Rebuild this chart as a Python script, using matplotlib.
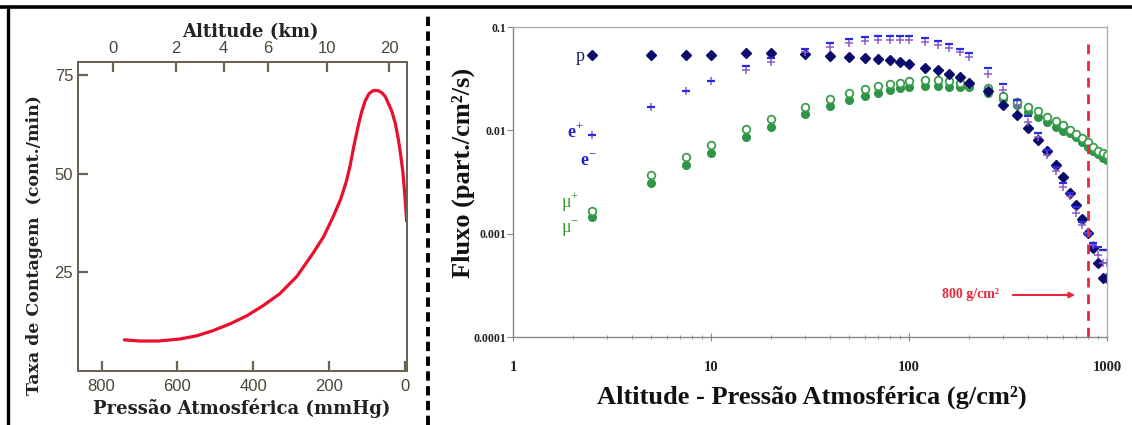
import numpy as np
import matplotlib
matplotlib.use('Agg')
import matplotlib.pyplot as plt
from matplotlib.lines import Line2D

# ----------DATA----------
# left panel: counting rate vs atmospheric pressure
pressure_mmhg = [740, 700, 650, 594, 550, 507, 460, 417, 375, 330, 285, 243, 215, 190,
                 170, 155, 145, 135, 125, 115, 105, 95, 85, 78, 70, 61, 52, 45, 35, 26,
                 18, 12, 6, 1, -4]
count_rate = [7.9, 7.6, 7.6, 8.1, 8.9, 10.2, 12.0, 14.0, 16.5, 19.6, 24.0, 29.8, 34.0, 39.0,
              43.5, 48.0, 52.0, 57.0, 61.5, 65.5, 68.5, 70.3, 71.0, 71.1, 71.0, 70.5, 69.5,
              68.0, 65.8, 62.8, 58.8, 55.0, 50.5, 45.0, 38.0]
mmhg_ticks = [800, 600, 400, 200, 0]
rate_ticks = [25, 50, 75]
km_labels = ['0', '2', '4', '6', '10', '20']
km_pressure = [770, 604, 478, 361, 206, 42]

# right panel: particle flux vs atmospheric depth
depth = [2.5, 5, 7.5, 10, 15, 20, 30, 40, 50, 60, 70, 80, 90, 100, 120, 140, 160, 180, 200,
         250, 300, 350, 400, 450, 500, 550, 600, 650, 700, 750, 800, 850, 900, 950, 1000]
flux_p = [0.053, 0.0535, 0.0535, 0.0535, 0.0555, 0.0555, 0.055, 0.052, 0.051, 0.050, 0.049,
          0.048, 0.046, 0.044, 0.040, 0.038, 0.035, 0.033, 0.029, 0.024, 0.0176, 0.0141,
          0.0105, 0.0081, 0.0063, 0.0046, 0.0035, 0.0025, 0.0019, 0.00139, 0.00101, 0.00072,
          0.00052, 0.00037, 0.00037]
flux_eplus = [0.0090, 0.017, 0.024, 0.030, 0.038, 0.046, 0.057, 0.064, 0.070, 0.073, 0.075,
              0.075, 0.075, 0.075, 0.071, 0.067, 0.062, 0.057, 0.051, 0.035, 0.0246, 0.0176,
              0.0121, 0.0086, 0.0058, 0.0040, 0.0028, 0.0023, 0.0016, 0.0012, 0.00101,
              0.00078, 0.00062, 0.00052, 0.00052]
flux_eminus = [0.0090, 0.017, 0.024, 0.030, 0.042, 0.050, 0.061, 0.070, 0.076, 0.080, 0.082,
               0.082, 0.082, 0.082, 0.078, 0.073, 0.068, 0.061, 0.056, 0.040, 0.028, 0.0196,
               0.0138, 0.0094, 0.0064, 0.0044, 0.0031, 0.0025, 0.0018, 0.0013, 0.00098,
               0.00082, 0.00075, 0.00070, 0.00070]
flux_muplus = [0.00166, 0.0037, 0.0055, 0.0072, 0.0103, 0.0128, 0.0168, 0.020, 0.023, 0.025,
               0.0268, 0.028, 0.029, 0.030, 0.0307, 0.0307, 0.030, 0.0287, 0.0275, 0.0256,
               0.0215, 0.0188, 0.0168, 0.0154, 0.0135, 0.0123, 0.0113, 0.0101, 0.0092,
               0.0084, 0.0077, 0.0069, 0.0063, 0.0060, 0.0058]
flux_muminus = [0.00145, 0.0031, 0.0046, 0.0061, 0.0086, 0.0108, 0.0144, 0.0172, 0.0197,
                0.0215, 0.0230, 0.0246, 0.0256, 0.0262, 0.0268, 0.0268, 0.0265, 0.0260,
                0.0260, 0.0230, 0.020, 0.0176, 0.015, 0.0135, 0.012, 0.0108, 0.0099, 0.0094,
                0.0086, 0.0077, 0.0069, 0.0063, 0.0059, 0.0054, 0.0052]
flux_ticks = [0.0001, 0.001, 0.01, 0.1]
flux_ticklabels = ['0.0001', '0.001', '0.01', '0.1']
depth_ticks = [1, 10, 100, 1000]
depth_ticklabels = ['1', '10', '100', '1000']
cut_depth = 800

plt.rcParams['font.family'] = ['Liberation Serif', 'DejaVu Serif']
plt.rcParams['mathtext.fontset'] = 'custom'
plt.rcParams['mathtext.rm'] = 'Liberation Serif'
plt.rcParams['mathtext.bf'] = 'Liberation Serif:bold'

fig = plt.figure(figsize=(11.32, 4.25), dpi=100)

# ----------LEFT PANEL----------
spine_col = '#6b6455'
tick_col = '#4b4636'
ax1 = fig.add_axes([78/1132, 1-371/425, 329/1132, 309/425])
ax1.plot(pressure_mmhg, count_rate, color='#e8102e', lw=2.3, solid_capstyle='round')
ax1.set_xlim(862, -5)
ax1.set_ylim(0, 78.3)
ax1.set_xticks(mmhg_ticks)
ax1.set_yticks(rate_ticks)
for s in ax1.spines.values():
    s.set_color(spine_col)
    s.set_linewidth(1.4)
ax1.tick_params(direction='in', length=7, width=1.6, color=spine_col,
                labelcolor=tick_col, labelsize=12, labelfontfamily='Liberation Sans')
ax1.tick_params(axis='x', pad=6)

ax1t = ax1.twiny()
ax1t.set_xlim(ax1.get_xlim())
ax1t.set_xticks(km_pressure)
ax1t.set_xticklabels(km_labels)
ax1t.tick_params(direction='in', length=7, width=1.6, color=spine_col,
                 labelcolor=tick_col, labelsize=12, labelfontfamily='Liberation Sans', pad=4)
for s in ax1t.spines.values():
    s.set_color(spine_col)
    s.set_linewidth(1.4)

fig.text(250/1132, 1-32/425, 'Altitude (km)', ha='center', va='center',
         fontsize=13, fontweight='bold', family='DejaVu Serif', color='#222222')
fig.text(242/1132, 1-408/425, 'Pressão Atmosférica (mmHg)', ha='center', va='center',
         fontsize=13, fontweight='bold', family='DejaVu Serif', color='#222222')
fig.text(35/1132, 1-245/425, 'Taxa de Contagem  (cont./min)', ha='center', va='center',
         rotation=90, fontsize=12.5, fontweight='bold', family='DejaVu Serif', color='#222222')

# ----------RIGHT PANEL----------
ax2 = fig.add_axes([513/1132, 1-337/425, 594/1132, 310/425])
ax2.set_xscale('log')
ax2.set_yscale('log')
ax2.set_xlim(1, 1000)
ax2.set_ylim(0.0001, 0.1)

ax2.plot(depth, flux_muminus, 'o', ms=5.5, color='#2e9447', mec='#2e9447')
ax2.plot(depth, flux_muplus, 'o', ms=5.5, mfc='white', mec='#3c9e4c', mew=1.3)
ax2.plot(depth, flux_p, 'D', ms=5, color='#0b0b6b')
ax2.plot(depth, flux_eplus, '+', ms=6, mew=1.1, color='#8a5cc8')
ax2.plot(depth, flux_eminus, '_', ms=6, mew=1.6, color='#2a2ae0')

ax2.axvline(cut_depth, ymin=0, ymax=0.95, color='#e8283c', lw=2, ls=(0, (3.5, 2.5)))
ax2.annotate('', xy=(713, 0.000255), xytext=(324, 0.000255),
             arrowprops=dict(arrowstyle='-|>', color='#e8283c', lw=1.5, mutation_scale=8))
ax2.text(285, 0.000255, '800 g/cm²', ha='right', va='center', color='#e8283c',
         fontsize=10, fontweight='bold')

ax2.text(2.3, 0.052, 'p', ha='right', va='center', fontsize=13, color='#1a1a6e')
ax2.text(2.28, 0.0095, 'e$^{+}$', ha='right', va='center', fontsize=13,
         fontweight='bold', color='#2020d0')
ax2.text(2.65, 0.0049, 'e$^{-}$', ha='right', va='center', fontsize=13,
         fontweight='bold', color='#2020d0')
ax2.text(2.17, 0.0020, 'μ$^{+}$', ha='right', va='center', fontsize=13, color='#3a9a3a')
ax2.text(2.17, 0.00108, 'μ$^{-}$', ha='right', va='center', fontsize=13, color='#3a9a3a')

ax2.set_yticks(flux_ticks)
ax2.set_yticklabels(flux_ticklabels)
ax2.yaxis.set_minor_locator(matplotlib.ticker.NullLocator())
ax2.set_xticks(depth_ticks)
ax2.set_xticklabels(depth_ticklabels)
for s in ax2.spines.values():
    s.set_color('#b0b0b0')
    s.set_linewidth(1)
ax2.spines['left'].set_color('#888888')
ax2.spines['bottom'].set_color('#888888')
ax2.tick_params(axis='y', which='major', direction='out', length=4, width=0.8,
                color='#888888', pad=1, labelsize=8.5)
ax2.tick_params(axis='x', which='major', direction='inout', length=6, width=0.8,
                color='#888888', pad=14, labelsize=10.5)
ax2.tick_params(axis='x', which='minor', direction='inout', length=3, width=0.6,
                color='#888888')
for lab in ax2.get_xticklabels() + ax2.get_yticklabels():
    lab.set_fontweight('bold')
    lab.set_color('#222222')

fig.text(812/1132, 1-397/425, 'Altitude - Pressão Atmosférica (g/cm²)', ha='center',
         va='center', fontsize=19, fontweight='bold', color='#111111')
fig.text(463/1132, 1-173/425, 'Fluxo (part./cm²/s)', ha='center', va='center',
         rotation=90, fontsize=19, fontweight='bold', color='#111111')

# ----------FRAME----------
fig.add_artist(Line2D([0, 1], [1-7/425, 1-7/425], transform=fig.transFigure,
                      color='black', lw=2.6))
fig.add_artist(Line2D([8/1132, 8/1132], [0, 1-7/425], transform=fig.transFigure,
                      color='black', lw=2.4))
fig.add_artist(Line2D([428/1132, 428/1132], [0, 1-13/425], transform=fig.transFigure,
                      color='black', lw=2.8, ls=(0, (2.4, 1.4))))

fig.savefig('out.png', dpi=100)
